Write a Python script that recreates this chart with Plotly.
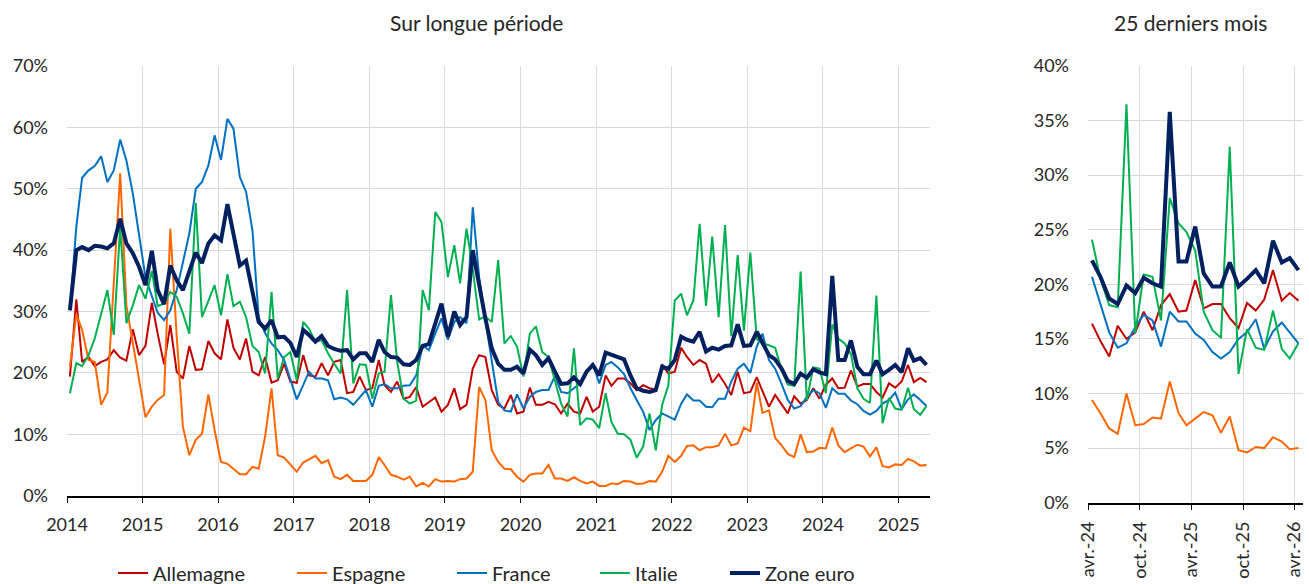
import pandas as pd
import plotly.graph_objects as go

# monthly shares, in %, Jan 2014 -> May 2025
allemagne = [19.4, 32.0, 21.8, 22.6, 21.1, 21.8, 22.2, 23.7, 22.5, 22.0, 27.1, 22.9,
             24.4, 31.4, 26.4, 21.4, 27.8, 20.2, 19.1, 24.4, 20.5, 20.6, 25.2, 23.2,
             22.2, 28.7, 24.1, 22.2, 25.6, 20.2, 19.6, 22.6, 18.4, 18.8, 21.5, 18.6,
             18.4, 22.9, 19.6, 19.4, 21.6, 19.6, 21.8, 22.1, 16.7, 16.9, 19.4, 17.2,
             17.5, 22.1, 18.0, 16.9, 18.6, 15.8, 16.1, 17.7, 14.5, 15.3, 16.0, 13.7,
             14.8, 17.5, 14.1, 14.8, 20.7, 22.9, 22.6, 17.2, 14.8, 14.2, 16.4, 13.4,
             13.7, 17.6, 14.8, 14.8, 15.3, 14.9, 13.4, 15.0, 13.7, 13.4, 16.1, 13.7,
             14.5, 19.6, 17.9, 19.1, 19.1, 18.3, 17.2, 18.0, 17.5, 17.3, 21.4, 19.9,
             20.2, 24.1, 22.6, 21.3, 22.1, 21.5, 18.4, 19.8, 18.2, 16.4, 20.2, 16.7,
             16.9, 19.3, 16.9, 14.5, 16.4, 14.8, 13.4, 16.2, 15.0, 15.6, 17.5, 15.8,
             18.1, 19.1, 17.5, 17.6, 20.4, 17.8, 18.2, 18.2, 16.9, 16.0, 18.3, 17.6,
             18.6, 21.3, 18.5, 19.2, 18.5]
espagne = [21.0, 29.6, 27.0, 22.1, 21.8, 14.8, 16.8, 34.0, 52.5, 31.0, 25.0, 19.0,
           12.8, 14.5, 15.6, 16.4, 43.5, 26.0, 11.2, 6.6, 9.1, 10.1, 16.5, 10.7,
           5.5, 5.2, 4.3, 3.5, 3.5, 4.7, 4.4, 9.6, 17.5, 6.6, 6.2, 5.0,
           3.9, 5.4, 5.9, 6.5, 5.3, 5.8, 3.1, 2.7, 3.4, 2.4, 2.4, 2.4,
           3.4, 6.3, 5.0, 3.4, 3.1, 2.6, 3.1, 1.5, 2.1, 1.5, 2.7, 2.3,
           2.4, 2.3, 2.7, 2.8, 3.9, 17.7, 15.6, 7.4, 5.5, 4.4, 4.3, 3.1,
           2.3, 3.4, 3.6, 3.6, 5.0, 2.8, 2.8, 2.4, 3.0, 2.4, 2.0, 2.3,
           1.6, 1.6, 2.0, 1.9, 2.4, 2.3, 1.9, 2.0, 2.4, 2.3, 3.9, 6.5,
           5.5, 6.5, 8.1, 8.2, 7.4, 7.9, 7.9, 8.2, 10.1, 8.2, 8.5, 11.1,
           10.5, 18.4, 13.5, 13.9, 9.4, 8.2, 6.8, 6.3, 10.0, 7.1, 7.2, 7.8,
           7.7, 11.1, 8.2, 7.1, 7.7, 8.3, 8.0, 6.4, 7.9, 4.8, 4.6, 5.1,
           5.0, 6.0, 5.6, 4.9, 5.0]
france = [30.2, 43.8, 51.8, 53.0, 53.7, 55.3, 51.1, 53.0, 58.0, 54.6, 49.2, 42.2,
          35.6, 32.5, 29.8, 28.6, 30.2, 33.5, 37.8, 42.7, 50.0, 51.1, 53.8, 58.7,
          54.7, 61.4, 59.8, 51.9, 49.5, 43.2, 29.0, 26.5, 24.8, 23.7, 22.1, 18.8,
          15.7, 18.0, 20.2, 19.1, 19.1, 18.8, 15.7, 16.0, 15.7, 14.8, 16.1, 17.2,
          14.5, 17.9, 18.2, 17.5, 17.5, 17.9, 18.0, 19.6, 24.5, 23.7, 26.4, 28.9,
          25.4, 28.3, 29.1, 28.1, 47.0, 35.6, 28.6, 22.1, 15.3, 13.9, 13.7, 16.5,
          14.2, 16.1, 16.9, 17.2, 17.2, 19.5, 16.9, 16.7, 17.5, 18.3, 20.2, 21.5,
          18.3, 21.3, 21.8, 20.9, 19.8, 17.5, 15.6, 13.7, 10.7, 12.3, 13.4, 12.9,
          12.4, 15.0, 16.5, 15.5, 15.5, 14.5, 14.4, 15.8, 15.8, 18.6, 20.7, 21.5,
          20.0, 24.3, 26.4, 22.1, 20.7, 18.2, 15.6, 14.2, 14.6, 16.1, 17.2, 16.7,
          14.3, 17.5, 16.6, 16.6, 15.5, 14.9, 13.8, 13.2, 13.8, 15.0, 15.6, 16.8,
          14.1, 15.7, 16.5, 15.6, 14.6]
italie = [16.7, 21.6, 21.1, 22.9, 25.6, 29.4, 33.5, 26.2, 43.8, 28.1, 31.0, 34.3,
          32.1, 36.6, 30.9, 31.3, 33.2, 32.4, 29.7, 26.4, 47.7, 29.1, 31.6, 34.3,
          29.4, 36.1, 30.9, 31.6, 29.1, 24.4, 23.4, 19.9, 33.2, 19.1, 22.6, 23.4,
          18.8, 28.3, 27.2, 25.1, 25.3, 23.2, 21.5, 19.9, 33.5, 18.3, 21.4, 21.3,
          15.8, 19.9, 20.2, 32.7, 21.8, 15.8, 15.0, 15.5, 33.5, 30.2, 46.2, 44.6,
          35.6, 40.8, 34.6, 43.5, 37.0, 28.7, 29.2, 28.3, 38.4, 24.8, 26.0, 24.3,
          19.4, 26.4, 27.6, 23.4, 22.6, 18.8, 15.0, 12.9, 24.0, 11.5, 12.6, 12.4,
          11.0, 16.7, 12.0, 10.1, 10.0, 9.1, 6.2, 8.0, 13.4, 7.4, 14.8, 18.0,
          31.8, 32.9, 29.4, 31.8, 44.3, 30.9, 42.2, 29.1, 44.1, 26.0, 39.2, 26.9,
          39.6, 25.5, 24.8, 24.5, 24.1, 20.5, 18.1, 17.9, 36.5, 15.5, 20.9, 20.7,
          16.7, 27.9, 25.6, 24.8, 23.1, 17.5, 15.8, 15.1, 32.6, 11.8, 15.9, 14.2,
          14.0, 17.6, 14.1, 13.2, 14.6]
zone_euro = [30.2, 40.0, 40.5, 40.0, 40.7, 40.6, 40.3, 41.1, 45.1, 41.1, 39.5, 37.3,
             34.3, 39.9, 33.5, 31.2, 37.5, 35.1, 33.5, 36.7, 39.6, 37.9, 41.1, 42.4,
             41.6, 47.5, 42.7, 37.5, 38.3, 32.9, 28.3, 27.2, 28.6, 25.8, 25.9, 24.9,
             22.6, 27.0, 26.2, 25.1, 26.0, 24.4, 23.9, 23.6, 23.7, 22.2, 23.2, 23.2,
             21.8, 25.4, 23.4, 22.6, 22.5, 21.4, 21.3, 22.1, 24.4, 24.7, 28.1, 31.3,
             25.9, 30.0, 27.8, 29.1, 40.0, 34.0, 28.9, 24.0, 21.5, 20.5, 20.5, 21.0,
             19.9, 23.8, 22.9, 21.3, 22.4, 20.2, 18.2, 18.3, 19.3, 18.2, 20.2, 21.3,
             19.6, 23.3, 22.9, 22.6, 22.2, 19.6, 17.5, 17.1, 16.9, 17.2, 21.0, 20.7,
             22.1, 25.9, 25.4, 25.1, 26.7, 23.5, 24.1, 23.8, 24.4, 24.5, 27.9, 24.4,
             24.5, 26.7, 24.8, 22.9, 22.2, 20.7, 18.7, 18.2, 19.9, 19.2, 20.6, 20.1,
             19.8, 35.8, 22.1, 22.1, 25.3, 21.0, 19.8, 19.8, 22.0, 19.8, 20.5, 21.3,
             20.1, 24.0, 22.0, 22.4, 21.3]

months = pd.date_range("2014-01-01", periods=len(zone_euro), freq="MS") + pd.Timedelta(days=14)

# right panel: last 25 months, labelled as in the source
n_recent = 25
recent_months = pd.date_range("2024-04-01", periods=n_recent, freq="MS") + pd.Timedelta(days=14)
recent_ticks = ["2024-04-01", "2024-10-01", "2025-04-01", "2025-10-01", "2026-04-01"]
recent_labels = ["avr.-24", "oct.-24", "avr.-25", "oct.-25", "avr.-26"]

series = [
    ("Allemagne", allemagne, "#C00000", 2),
    ("Espagne", espagne, "#FF6600", 2),
    ("France", france, "#0070C0", 2),
    ("Italie", italie, "#00B050", 2),
    ("Zone euro", zone_euro, "#002060", 4),
]
# left edge (px) of each legend text in the source
legend_text_x = [158, 337, 497, 640, 770]

FONT = "Lato, 'Open Sans', sans-serif"
W, H = 1309, 584

fig = go.Figure()
for k, (name, vals, col, w) in enumerate(series):
    fig.add_trace(go.Scatter(x=months, y=vals, mode="lines", name=name,
                             line=dict(color=col, width=w), xaxis="x", yaxis="y",
                             legend="legend" if k == 0 else "legend%d" % (k + 1)))
for name, vals, col, w in series:
    fig.add_trace(go.Scatter(x=recent_months, y=vals[-n_recent:], mode="lines", name=name,
                             line=dict(color=col, width=w), showlegend=False,
                             xaxis="x2", yaxis="y2"))

grid = "#d9d9d9"
tickfont = dict(family=FONT, size=18, color="#262626")

# one legend per entry so each can sit where the source puts it
legends = {}
for k, tx in enumerate(legend_text_x):
    key = "legend" if k == 0 else "legend%d" % (k + 1)
    legends[key] = dict(orientation="h", xanchor="left", x=(tx - 45) / W,
                        yanchor="middle", y=1 - 573 / H, itemwidth=30,
                        font=dict(family=FONT, size=20, color="#262626"),
                        bgcolor="rgba(0,0,0,0)")

fig.update_layout(
    width=W, height=H,
    # no auto-expansion: the legends must not shrink the plot areas
    margin=dict(l=0, r=0, t=0, b=0, autoexpand=False),
    paper_bgcolor="white", plot_bgcolor="white",
    font=dict(family=FONT, size=18, color="#262626"),
    xaxis=dict(domain=[67 / W, 930 / W], type="date",
               range=["2014-01-01", "2025-06-01"],
               tick0="2014-01-01", dtick="M12", tickformat="%Y",
               showgrid=True, gridcolor=grid, gridwidth=1,
               showline=True, linecolor="black", linewidth=1.5,
               ticks="outside", ticklen=6, tickcolor="black",
               ticklabelstandoff=6, tickfont=tickfont, automargin=False),
    yaxis=dict(domain=[1 - 495.7 / H, 1 - 66 / H], range=[0, 70], dtick=10,
               ticksuffix="%", showgrid=True, gridcolor=grid, gridwidth=1,
               zeroline=False, showline=False, ticks="",
               ticklabelstandoff=18, tickfont=tickfont, automargin=False),
    xaxis2=dict(domain=[1088 / W, 1303 / W], type="date", anchor="y2",
                range=["2024-04-01", "2026-05-01"],
                tickvals=recent_ticks, ticktext=recent_labels, tickangle=-90,
                showgrid=True, gridcolor=grid, gridwidth=1,
                showline=True, linecolor="black", linewidth=1.5,
                ticks="outside", ticklen=6, tickcolor="black",
                ticklabelstandoff=4, tickfont=tickfont, automargin=False),
    yaxis2=dict(domain=[1 - 502.7 / H, 1 - 66 / H], range=[0, 40], dtick=5,
                anchor="x2", ticksuffix="%", showgrid=True, gridcolor=grid, gridwidth=1,
                zeroline=False, showline=False, ticks="",
                ticklabelstandoff=18, tickfont=tickfont, automargin=False),
    showlegend=True,
    annotations=[
        dict(text="Sur longue période", x=476 / W, y=1 - 22 / H, xref="paper", yref="paper",
             xanchor="center", yanchor="middle",
             showarrow=False, font=dict(family=FONT, size=21, color="#262626")),
        dict(text="25 derniers mois", x=1190 / W, y=1 - 22 / H, xref="paper", yref="paper",
             xanchor="center", yanchor="middle",
             showarrow=False, font=dict(family=FONT, size=21, color="#262626")),
    ],
    **legends,
)

post = """
document.documentElement.style.margin='0';
document.documentElement.style.overflow='hidden';
document.body.style.margin='0';
document.body.style.overflow='hidden';
"""

fig.write_html("out.html", config={"displayModeBar": False}, post_script=post)
